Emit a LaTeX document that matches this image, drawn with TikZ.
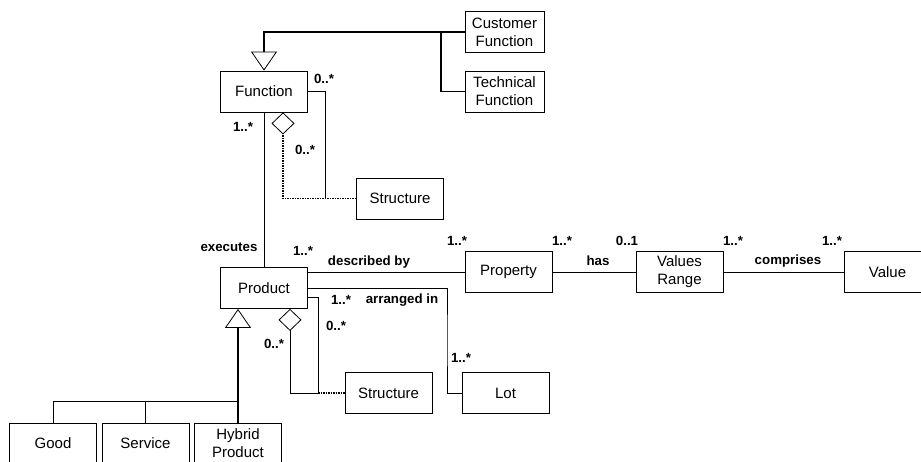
\documentclass[tikz,border=0pt]{standalone}
\usepackage{fontspec}
\setmainfont{Liberation Sans}
\usetikzlibrary{arrows.meta,shapes.geometric,positioning}

\tikzset{
  gen/.style={-{Triangle[open,length=19pt,width=26pt,line width=0.8pt]}, line width=1.5pt},
  agg/.style={-{Diamond[open,length=22pt,width=23pt,line width=0.8pt]}},
  dots/.style={dash pattern=on 1.5pt off 1pt, line width=1.2pt},
}

\begin{document}
\begin{tikzpicture}[x=1pt, y=-1pt, line width=0.8pt]
   \useasboundingbox (0,0) rectangle (921,461);
   \clip (0,0) rectangle (921,461);
   \begin{scope}[every node/.style={draw, align=center, minimum width=87pt, minimum height=41pt, inner sep=1pt, font=\fontsize{15}{18}\selectfont}]
    \node (cfun) [minimum width=79pt] at (504.5,32) {Customer\\Function};
    \node (tfun) [minimum width=79pt] at (504.5,91.5) {Technical\\Function};
    \node (func) at (264,91.5) {Function};
    \node (str1) at (400,198.5) {Structure};
    \node (prod) at (264,288) {Product};
    \node (prop) at (508.5,272) {Property};
    \node (vr) at (679.5,272) {Values\\Range};
    \node (val) at (887.5,272) {Value};
    \node (lot) at (505.5,393) {Lot};
    \node (str2) at (388.5,393) {Structure};
    \node (good) at (53,443.5) {Good};
    \node (serv) at (145.5,443.5) {Service};
    \node (hyb) at (238,443.5) {Hybrid\\Product};
   \end{scope}

   % function side
   \coordinate (j1) at (441,32);
   \draw[gen] (cfun.west) -| (func.north);
   \draw[line width=1.5pt] (tfun.west) -| (j1);
   \coordinate (c1) at (325,198.5);
   \draw (func.east) -| (c1);
   \draw[agg, dots] (str1.west) -| ([xshift=19pt]func.south);
   \draw (func.south) -- (prod.north);

   % product side
   \draw ([yshift=16pt]prod.east) -- (prop.west);
   \draw (prop) -- (vr);
   \draw (vr) -- (val);
   \coordinate (c2) at (447,340);
   \draw (prod.east) -| (c2) |- (lot.west);
   \coordinate (c3) at (318,393);
   \draw ([yshift=-9pt]prod.east) -| (c3);
   \draw[dots] (c3) -- (str2.west);
   \draw[agg] (c3) -| ([xshift=26pt]prod.south);
   \coordinate (b1) at (238,401);
   \draw (good.north) |- (b1);
   \draw (serv.north) -- (serv.north |- b1);
   \draw[gen] (hyb.north) -- (hyb.north |- prod.south);

   \begin{scope}[every node/.style={font=\fontsize{13.3}{15}\bfseries\selectfont, inner sep=0pt}]
    \node (m1) at (324,79) {0..*};
    \node (m2) at (243,127) {1..*};
    \node (m3) at (305,150) {0..*};
    \node (l1) at (229,247) {executes};
    \node (m4) at (303,251) {1..*};
    \node (l2) at (369,262) {described by};
    \node (m5) at (457,241) {1..*};
    \node (m6) at (562,241) {1..*};
    \node (l3) at (598,261) {has};
    \node (m7) at (627,241) {0..1};
    \node (m8) at (733,241) {1..*};
    \node (l4) at (788,261) {comprises};
    \node (m9) at (832,241) {1..*};
    \node (m10) at (341,300) {1..*};
    \node (l5) at (402,300) {arranged in};
    \node (m11) at (336,326) {0..*};
    \node (m12) at (274,344) {0..*};
    \node (m13) at (461,358) {1..*};
   \end{scope}
\end{tikzpicture}
\end{document}
